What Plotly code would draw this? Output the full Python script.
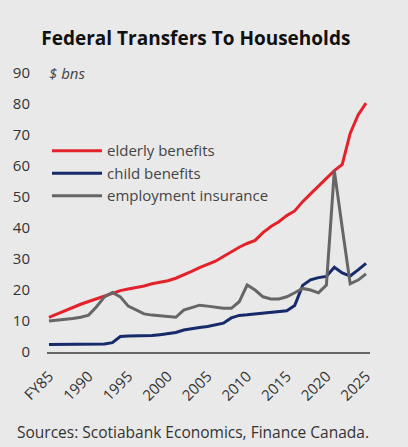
import plotly.graph_objects as go

years = list(range(1985, 2026))
tick_vals = [1985, 1990, 1995, 2000, 2005, 2010, 2015, 2020, 2025]
tick_text = ["FY85", "1990", "1995", "2000", "2005", "2010", "2015", "2020", "2025"]

elderly = [11.2, 12.3, 13.4, 14.4, 15.4, 16.3, 17.2, 18.0, 19.0, 19.8,
           20.3, 20.7, 21.3, 22.0, 22.5, 23.0, 23.8, 24.8, 26.0, 27.2,
           28.2, 29.3, 30.8, 32.3, 33.8, 35.0, 36.0, 38.5, 40.5, 42.0,
           44.0, 45.5, 48.5, 51.0, 53.5, 56.0, 58.5, 60.5, 70.5, 76.5, 80.3]
child = [2.4, 2.4, 2.5, 2.5, 2.5, 2.6, 2.6, 2.6, 3.0, 5.0,
         5.2, 5.2, 5.2, 5.3, 5.6, 5.9, 6.3, 7.1, 7.6, 7.9,
         8.2, 8.8, 9.3, 11.0, 11.8, 12.0, 12.3, 12.6, 12.8, 13.1,
         13.3, 15.0, 21.5, 23.3, 24.0, 24.4, 27.3, 25.5, 24.5, 26.5, 28.6]
employment = [10.0, 10.2, 10.5, 10.8, 11.2, 11.9, 14.6, 17.8, 19.2, 17.8,
              14.8, 13.5, 12.3, 11.9, 11.7, 11.4, 11.2, 13.5, 14.4, 15.1,
              14.8, 14.4, 14.1, 14.1, 16.2, 21.6, 20.0, 17.8, 17.1, 17.1,
              17.8, 19.1, 20.5, 20.0, 19.1, 21.6, 58.5, 40.0, 22.0, 23.2, 25.2]

font_family = "Open Sans, Lato, sans-serif"
bg = "#e9e9e9"

fig = go.Figure()
fig.add_trace(go.Scatter(x=years, y=elderly, mode="lines", name="elderly benefits",
                         line=dict(color="#e3222b", width=3)))
fig.add_trace(go.Scatter(x=years, y=child, mode="lines", name="child benefits",
                         line=dict(color="#172a6a", width=3)))
fig.add_trace(go.Scatter(x=years, y=employment, mode="lines", name="employment insurance",
                         line=dict(color="#666666", width=3)))

fig.update_layout(
    width=408, height=447,
    paper_bgcolor=bg, plot_bgcolor=bg,
    margin=dict(l=47, r=38, t=73, b=95),
    font=dict(family=font_family, size=15, color="#333333"),
    title=dict(text="<b>Federal Transfers To Households</b>", x=0.48, xanchor="center",
               y=0.915, yanchor="middle", font=dict(size=19, color="#111111")),
    showlegend=True,
    legend=dict(x=0.0, y=0.78, xanchor="left", yanchor="top", bgcolor="rgba(0,0,0,0)",
                font=dict(size=15, color="#444444"), itemwidth=50, tracegroupgap=0),
    xaxis=dict(range=[1984.75, 2025.5], tickvals=tick_vals, ticktext=tick_text,
               tickangle=-45, showgrid=False, zeroline=False, showline=True,
               linecolor="#666666", linewidth=1.5, ticks="", ticklabelstandoff=8,
               tickfont=dict(size=15, color="#333333")),
    yaxis=dict(range=[0, 90], tickvals=list(range(0, 100, 10)), showgrid=False,
               zeroline=False, showline=False, ticks="", ticklabelstandoff=16,
               tickfont=dict(size=15, color="#333333")),
    annotations=[
        dict(text="<i>$ bns</i>", xref="paper", yref="y", x=0.0, y=90,
             xanchor="left", yanchor="middle", showarrow=False,
             font=dict(size=15, color="#444444")),
        dict(text="Sources: Scotiabank Economics, Finance Canada.", xref="paper", yref="paper",
             x=-0.1, y=-0.287, xanchor="left", yanchor="middle", showarrow=False,
             font=dict(size=15.5, color="#333333")),
    ],
)

fig.write_html("out.html", config={"displayModeBar": False},
               post_script="document.body.style.margin='0';")
